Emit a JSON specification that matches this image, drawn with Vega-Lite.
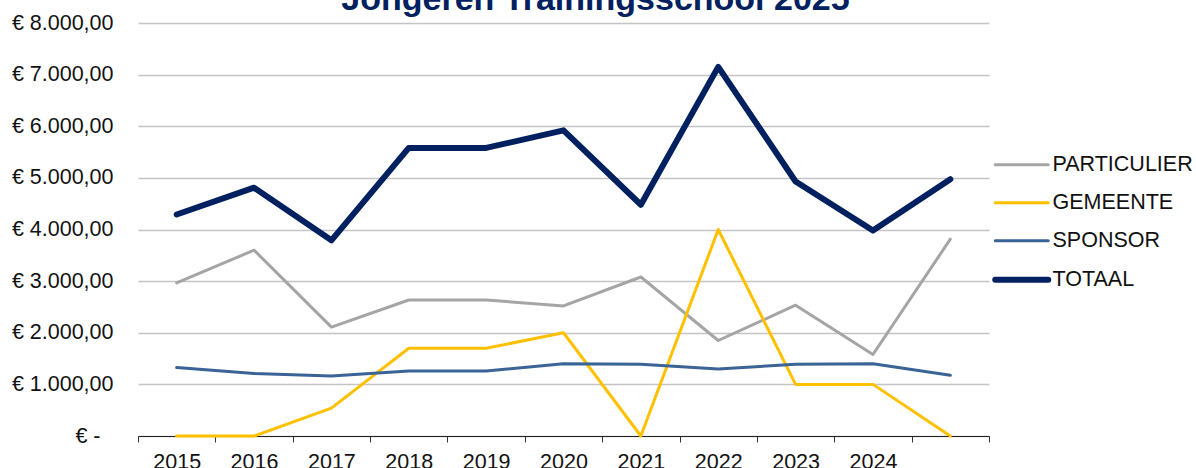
{
  "$schema": "https://vega.github.io/schema/vega-lite/v6.json",
  "autosize": {"type": "none"},
  "padding": {"left": 138, "top": 23, "right": 207, "bottom": 32},
  "width": 851,
  "height": 413,
  "background": "#ffffff",
  "title": {
    "text": "Jongeren Trainingsschool 2025",
    "font": "Liberation Sans",
    "fontSize": 34,
    "fontWeight": "bold",
    "color": "#002060",
    "anchor": "middle",
    "baseline": "alphabetic",
    "offset": 0,
    "dx": 32,
    "dy": 32
  },
  "data": {
    "values": [
      {"year": 2015, "series": "PARTICULIER", "value": 2965},
      {"year": 2016, "series": "PARTICULIER", "value": 3600},
      {"year": 2017, "series": "PARTICULIER", "value": 2110},
      {"year": 2018, "series": "PARTICULIER", "value": 2635},
      {"year": 2019, "series": "PARTICULIER", "value": 2635},
      {"year": 2020, "series": "PARTICULIER", "value": 2520},
      {"year": 2021, "series": "PARTICULIER", "value": 3080},
      {"year": 2022, "series": "PARTICULIER", "value": 1850},
      {"year": 2023, "series": "PARTICULIER", "value": 2533},
      {"year": 2024, "series": "PARTICULIER", "value": 1578},
      {"year": 2025, "series": "PARTICULIER", "value": 3812},
      {"year": 2015, "series": "GEMEENTE", "value": 0},
      {"year": 2016, "series": "GEMEENTE", "value": 0},
      {"year": 2017, "series": "GEMEENTE", "value": 540},
      {"year": 2018, "series": "GEMEENTE", "value": 1700},
      {"year": 2019, "series": "GEMEENTE", "value": 1700},
      {"year": 2020, "series": "GEMEENTE", "value": 2000},
      {"year": 2021, "series": "GEMEENTE", "value": 0},
      {"year": 2022, "series": "GEMEENTE", "value": 4000},
      {"year": 2023, "series": "GEMEENTE", "value": 1000},
      {"year": 2024, "series": "GEMEENTE", "value": 1000},
      {"year": 2025, "series": "GEMEENTE", "value": 0},
      {"year": 2015, "series": "SPONSOR", "value": 1325},
      {"year": 2016, "series": "SPONSOR", "value": 1210},
      {"year": 2017, "series": "SPONSOR", "value": 1160},
      {"year": 2018, "series": "SPONSOR", "value": 1260},
      {"year": 2019, "series": "SPONSOR", "value": 1260},
      {"year": 2020, "series": "SPONSOR", "value": 1400},
      {"year": 2021, "series": "SPONSOR", "value": 1390},
      {"year": 2022, "series": "SPONSOR", "value": 1300},
      {"year": 2023, "series": "SPONSOR", "value": 1390},
      {"year": 2024, "series": "SPONSOR", "value": 1400},
      {"year": 2025, "series": "SPONSOR", "value": 1175},
      {"year": 2015, "series": "TOTAAL", "value": 4290},
      {"year": 2016, "series": "TOTAAL", "value": 4810},
      {"year": 2017, "series": "TOTAAL", "value": 3790},
      {"year": 2018, "series": "TOTAAL", "value": 5580},
      {"year": 2019, "series": "TOTAAL", "value": 5580},
      {"year": 2020, "series": "TOTAAL", "value": 5920},
      {"year": 2021, "series": "TOTAAL", "value": 4480},
      {"year": 2022, "series": "TOTAAL", "value": 7150},
      {"year": 2023, "series": "TOTAAL", "value": 4930},
      {"year": 2024, "series": "TOTAAL", "value": 3980},
      {"year": 2025, "series": "TOTAAL", "value": 4975}
    ]
  },
  "mark": {"type": "line", "strokeCap": "round", "strokeJoin": "round"},
  "encoding": {
    "x": {
      "field": "year",
      "type": "quantitative",
      "scale": {"domain": [2014.5, 2025.5], "nice": false, "zero": false},
      "axis": {
        "title": null,
        "values": [2014.5, 2015, 2015.5, 2016, 2016.5, 2017, 2017.5, 2018, 2018.5, 2019, 2019.5, 2020, 2020.5, 2021, 2021.5, 2022, 2022.5, 2023, 2023.5, 2024, 2024.5, 2025, 2025.5],
        "labelExpr": "(datum.value % 1 == 0 && datum.value < 2025) ? format(datum.value, 'd') : ''",
        "tickOpacity": {"condition": {"test": "datum.value % 1 == 0", "value": 0}, "value": 1},
        "grid": false,
        "tickSize": 6,
        "tickColor": "#333333",
        "tickWidth": 1,
        "domainColor": "#222222",
        "domainWidth": 1,
        "labelFont": "Liberation Sans",
        "labelFontSize": 21.5,
        "labelColor": "#111111",
        "labelPadding": 9,
        "labelFlush": false,
        "labelOverlap": false
      }
    },
    "y": {
      "field": "value",
      "type": "quantitative",
      "scale": {"domain": [0, 8000], "nice": false},
      "axis": {
        "title": null,
        "values": [0, 1000, 2000, 3000, 4000, 5000, 6000, 7000, 8000],
        "labelExpr": "datum.value == 0 ? '€ -' : '€ ' + replace(replace(replace(format(datum.value, ',.2f'), ',', '#'), '.', ','), '#', '.')",
        "domain": false,
        "ticks": false,
        "gridColor": "#c4c4c4",
        "gridWidth": 1.3,
        "labelFont": "Liberation Sans",
        "labelFontSize": 21.5,
        "labelColor": "#111111",
        "labelPadding": {"condition": {"test": "datum.value == 0", "value": 38}, "value": 25}
      }
    },
    "color": {
      "field": "series",
      "type": "nominal",
      "scale": {
        "domain": ["PARTICULIER", "GEMEENTE", "SPONSOR", "TOTAAL"],
        "range": ["#a5a5a5", "#ffc000", "#3a6396", "#002060"]
      },
      "legend": {
        "title": null,
        "orient": "none",
        "legendX": 873,
        "legendY": 131,
        "symbolType": "M-3,0H3",
        "symbolSize": 312,
        "symbolStrokeWidth": 3,
        "labelOffset": 20,
        "rowPadding": 15,
        "labelFont": "Liberation Sans",
        "labelFontSize": 21.5,
        "labelColor": "#111111",
        "encode": {
          "symbols": {
            "update": {
              "strokeWidth": {"signal": "datum.value == 'TOTAAL' ? 6 : 3"},
              "strokeCap": {"value": "round"}
            }
          }
        }
      }
    },
    "strokeWidth": {
      "condition": {"test": "datum.series == 'TOTAAL'", "value": 6},
      "value": 3
    }
  },
  "config": {"view": {"stroke": null}}
}
